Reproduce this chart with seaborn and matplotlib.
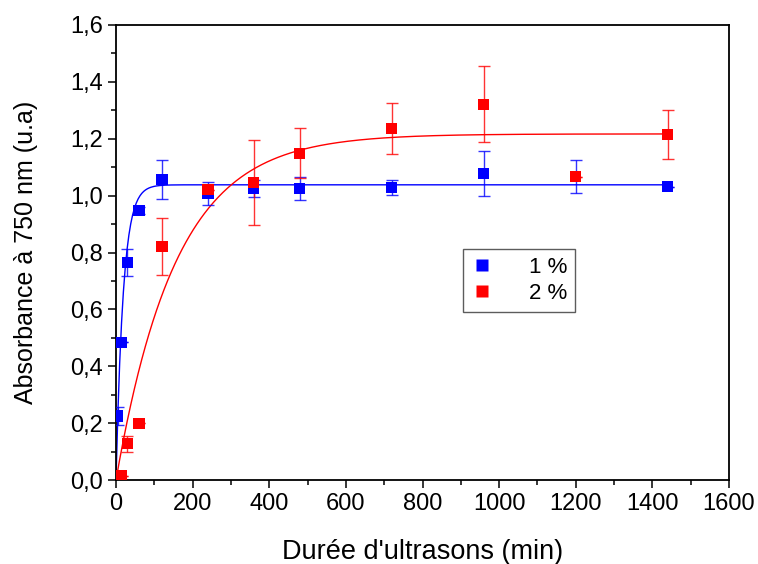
import numpy as np
import pandas as pd
import matplotlib
matplotlib.use("Agg")
import matplotlib.pyplot as plt
import seaborn as sns
from matplotlib.ticker import MultipleLocator, FuncFormatter

# sonication time (min) and absorbance
time_1 = [5, 15, 30, 60, 120, 240, 360, 480, 720, 960, 1200, 1440]
abs_1 = [0.225, 0.485, 0.765, 0.947, 1.057, 1.008, 1.026, 1.026, 1.028, 1.078, 1.067, 1.031]
err_1 = [0.03, 0.0, 0.048, 0.012, 0.068, 0.04, 0.03, 0.04, 0.027, 0.08, 0.057, 0.0]

time_2 = [15, 30, 60, 120, 240, 360, 480, 720, 960, 1200, 1440]
abs_2 = [0.014, 0.127, 0.199, 0.822, 1.02, 1.047, 1.149, 1.235, 1.322, 1.067, 1.215]
err_2 = [0.0, 0.027, 0.0, 0.10, 0.0, 0.15, 0.088, 0.09, 0.135, 0.0, 0.087]

# exponential fit y = A * (1 - exp(-t / tau)), parameters
fit_1 = (1.038, 19.0)
fit_2 = (1.217, 157.0)

labels = ["1 %", "2 %"]
colors = {"1 %": "#0000ff", "2 %": "#ff0000"}

df = pd.concat([
    pd.DataFrame({"t": time_1, "A": abs_1, "err": err_1, "serie": labels[0]}),
    pd.DataFrame({"t": time_2, "A": abs_2, "err": err_2, "serie": labels[1]}),
])

t_fit = np.linspace(0, 1440, 600)
fits = pd.concat([
    pd.DataFrame({"t": t_fit, "A": p[0] * (1 - np.exp(-t_fit / p[1])), "serie": lab})
    for p, lab in zip([fit_1, fit_2], labels)
])

sns.set_style("ticks")
plt.rcParams['font.family'] = ['Liberation Sans', 'DejaVu Sans']
plt.rcParams['text.color'] = 'black'
plt.rcParams['axes.labelcolor'] = 'black'

fig = plt.figure(figsize=(7.58, 5.64), dpi=100)
ax = fig.add_axes([116 / 758, 84 / 564, 613 / 758, 455 / 564])

# fitted curves
for lab in labels:
    sub = fits[fits.serie == lab]
    sns.lineplot(data=sub, x="t", y="A", color=colors[lab], lw=1.0, ax=ax, legend=False, zorder=2)

# error bars and points
for lab in labels:
    sub = df[df.serie == lab]
    ax.errorbar(sub.t, sub.A, yerr=sub.err, fmt="none", ecolor=colors[lab],
                elinewidth=1.0, capsize=4, capthick=1.0, alpha=0.8, zorder=3)
sns.scatterplot(data=df, x="t", y="A", hue="serie", palette=colors, marker="s",
                s=64, edgecolor="none", ax=ax, zorder=4)

ax.set_xlim(0, 1600)
ax.set_ylim(0, 1.6)
ax.xaxis.set_major_locator(MultipleLocator(200))
ax.xaxis.set_minor_locator(MultipleLocator(100))
ax.yaxis.set_major_locator(MultipleLocator(0.2))
ax.yaxis.set_minor_locator(MultipleLocator(0.1))
ax.yaxis.set_major_formatter(FuncFormatter(lambda v, _: f"{v:.1f}".replace(".", ",")))

ax.tick_params(which="major", direction="out", length=6, width=1.1, labelsize=17,
               colors="black", labelcolor="black")
ax.tick_params(which="minor", direction="out", length=3.5, width=1.1, colors="black")
for s in ax.spines.values():
    s.set_linewidth(1.3)
    s.set_color("black")

ax.set_xlabel("Durée d'ultrasons (min)", fontsize=19.5)
ax.set_ylabel("Absorbance à 750 nm (u.a)", fontsize=18)
ax.xaxis.set_label_coords(0.5, -0.13)
ax.yaxis.set_label_coords(-0.127, 0.5)

handles, _ = ax.get_legend_handles_labels()
leg = ax.legend(handles=handles, labels=labels, loc="upper left", bbox_to_anchor=(0.566, 0.508),
                borderaxespad=0, fontsize=16, frameon=True, fancybox=False, handlelength=1.0,
                handletextpad=1.6, borderpad=0.35, labelspacing=0.25)
leg.get_frame().set_edgecolor("#333333")
leg.get_frame().set_linewidth(1.0)
for txt in leg.get_texts():
    txt.set_color("black")

fig.savefig("out.png", dpi=100)
